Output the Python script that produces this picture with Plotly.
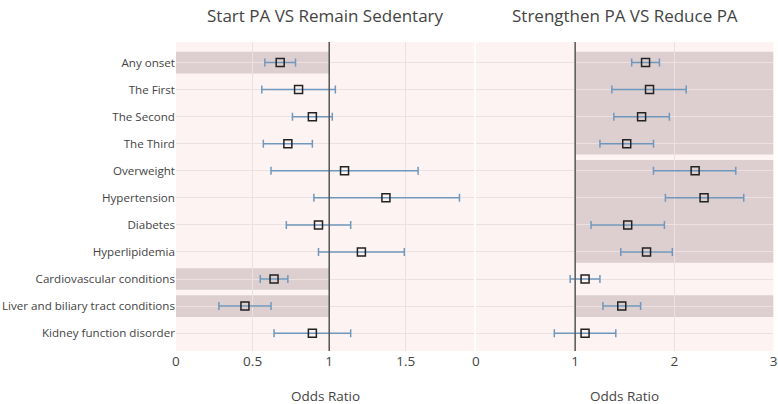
import plotly.graph_objects as go

outcomes = [
    "Any onset", "The First", "The Second", "The Third", "Overweight",
    "Hypertension", "Diabetes", "Hyperlipidemia", "Cardiovascular conditions",
    "Liver and biliary tract conditions", "Kidney function disorder",
]

# Start PA vs Remain Sedentary
start_or = [0.68, 0.80, 0.89, 0.73, 1.10, 1.37, 0.93, 1.21, 0.64, 0.45, 0.89]
start_lo = [0.58, 0.56, 0.76, 0.57, 0.62, 0.90, 0.72, 0.93, 0.55, 0.28, 0.64]
start_hi = [0.78, 1.04, 1.02, 0.89, 1.58, 1.85, 1.14, 1.49, 0.73, 0.62, 1.14]
start_sig = [0, 8, 9]

# Strengthen PA vs Reduce PA
strength_or = [1.71, 1.75, 1.67, 1.52, 2.21, 2.30, 1.53, 1.72, 1.10, 1.47, 1.10]
strength_lo = [1.57, 1.37, 1.39, 1.25, 1.79, 1.91, 1.16, 1.46, 0.95, 1.28, 0.79]
strength_hi = [1.85, 2.12, 1.95, 1.79, 2.62, 2.70, 1.90, 1.98, 1.25, 1.66, 1.41]
strength_blocks = [(0, 3), (4, 7), (9, 9)]

rows = list(range(len(outcomes)))
bar_col = "rgb(112,152,188)"
shade = "#ddcfd0"

fig = go.Figure()


def add_panel(ors, lo, hi, xa, ya):
    fig.add_trace(go.Scatter(
        x=ors, y=rows, mode="markers",
        xaxis=xa, yaxis=ya,
        marker=dict(symbol="square-open", size=8, color="#222",
                    line=dict(width=1.5)),
        error_x=dict(type="data", symmetric=False,
                     array=[h - o for h, o in zip(hi, ors)],
                     arrayminus=[o - l for o, l in zip(ors, lo)],
                     color=bar_col, thickness=1.5, width=4),
        showlegend=False,
    ))


add_panel(start_or, start_lo, start_hi, "x", "y")
add_panel(strength_or, strength_lo, strength_hi, "x2", "y2")

shapes = []
for i in start_sig:
    shapes.append(dict(type="rect", xref="x", yref="y", x0=0, x1=1,
                       y0=i - 0.4, y1=i + 0.4, fillcolor=shade,
                       line=dict(width=0), layer="below"))
for a, b in strength_blocks:
    shapes.append(dict(type="rect", xref="x2", yref="y2", x0=1, x1=3,
                       y0=a - 0.4, y1=b + 0.4, fillcolor=shade,
                       line=dict(width=0), layer="below"))
for xr, yr in (("x", "y domain"), ("x2", "y2 domain")):
    shapes.append(dict(type="line", xref=xr, yref=yr, x0=1, x1=1, y0=0, y1=1,
                       line=dict(color="#555", width=1.5)))

yrange = [10.66, -0.76]
grid = "#ece1e0"
bg = "#fdf3f2"
ytick = dict(size=11.6, color="#444")
xtick = dict(size=13.5, color="#444")
ttl = dict(size=17, color="#444")
axt = dict(size=13.5, color="#444")

fig.update_layout(
    width=778, height=404,
    margin=dict(l=0, r=0, t=42, b=53),
    paper_bgcolor="white",
    plot_bgcolor=bg,
    font=dict(family="Open Sans", color="#444"),
    shapes=shapes,
    xaxis=dict(domain=[0.2262, 0.6093], range=[0, 1.945], dtick=0.5,
               gridcolor=grid, zeroline=False, tickfont=xtick,
               automargin=False),
    xaxis2=dict(domain=[0.6118, 0.9942], range=[0, 3], dtick=1,
                gridcolor=grid, zeroline=False, tickfont=xtick,
                automargin=False),
    yaxis=dict(range=yrange, tickvals=rows, ticktext=outcomes,
               gridcolor=grid, zeroline=False, tickfont=ytick,
               ticklen=2, tickcolor="rgba(0,0,0,0)", automargin=False),
    yaxis2=dict(range=yrange, anchor="x2", tickvals=rows, showticklabels=False,
                gridcolor=grid, zeroline=False, automargin=False),
    annotations=[
        dict(text="Start PA VS Remain Sedentary", xref="paper", yref="paper",
             x=0.418, y=1.0, yshift=40, showarrow=False, xanchor="center",
             yanchor="top", font=ttl),
        dict(text="Strengthen PA VS Reduce PA", xref="paper", yref="paper",
             x=0.803, y=1.0, yshift=40, showarrow=False, xanchor="center",
             yanchor="top", font=ttl),
        dict(text="Odds Ratio", xref="paper", yref="paper",
             x=0.418, y=0, yshift=-45, showarrow=False, xanchor="center",
             yanchor="middle", font=axt),
        dict(text="Odds Ratio", xref="paper", yref="paper",
             x=0.803, y=0, yshift=-45, showarrow=False, xanchor="center",
             yanchor="middle", font=axt),
    ],
)

fig.write_html("out.html", config={"displayModeBar": False},
               post_script="document.body.style.margin='0';")
